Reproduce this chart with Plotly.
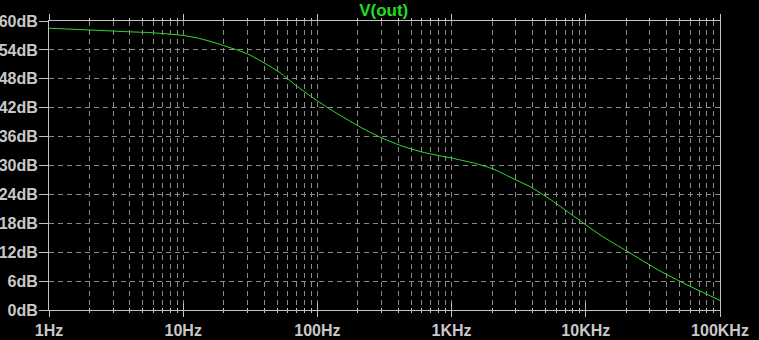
import plotly.graph_objects as go

# Data (frequency in Hz, magnitude in dB)
freq_hz = [1, 2.14, 4.47, 5.62, 10, 12.6, 15.8, 20, 25.1, 31.6, 40.7, 52.5, 70.1,
           88, 124, 175, 208, 292, 412, 582, 820, 1000, 1156, 1450, 1630, 2010,
           3020, 3840, 5410, 7240, 12760, 20280, 35700, 63100, 100000]
mag_db = [58.5, 58.1, 57.7, 57.6, 57.0, 56.5, 55.8, 54.9, 54.0, 52.9, 51.2, 49.3,
          46.5, 44.5, 41.7, 39.2, 38.0, 35.9, 34.2, 32.9, 32.0, 31.55, 31.15, 30.55,
          30.15, 29.35, 27.0, 25.6, 23.0, 20.5, 15.6, 12.2, 8.1, 4.6, 2.0]

x_tick_vals = [1, 10, 100, 1000, 10000, 100000]
x_tick_text = ["1Hz", "10Hz", "100Hz", "1KHz", "10KHz", "100KHz"]
y_tick_vals = [0, 6, 12, 18, 24, 30, 36, 42, 48, 54, 60]
y_tick_text = [f"{v}dB" for v in y_tick_vals]
minor_vals = [m * 10 ** d for d in range(5) for m in range(2, 10)]

label_color = "#c8c8c8"
frame_color = "#c8c0c8"
grid_color = "#8a8a8a"
font_fam = "Liberation Sans, Arial, sans-serif"

fig = go.Figure()
fig.add_trace(go.Scatter(x=freq_hz, y=mag_db, mode="lines",
                         line=dict(color="#33dd33", width=1, shape="spline", smoothing=0.6),
                         hoverinfo="skip", showlegend=False))
# invisible trace on overlaid axes (extra tick marks: crossing x ticks, long y ticks)
fig.add_trace(go.Scatter(x=[freq_hz[0]], y=[mag_db[0]], mode="markers",
                         marker=dict(opacity=0), xaxis="x2", yaxis="y2",
                         hoverinfo="skip", showlegend=False))

xr = [0, 5]
yr = [0, 60]
fig.update_layout(
    width=759, height=340,
    margin=dict(l=49, r=39, t=21, b=30, autoexpand=False),
    paper_bgcolor="black", plot_bgcolor="black",
    title=dict(text="<b>V(out)</b>", x=0.5055, xanchor="center", xref="container",
               y=1 - 10.5 / 340, yanchor="middle", yref="container",
               font=dict(family=font_fam, size=17, color="#22dd22")),
    xaxis=dict(type="log", range=xr, tickmode="array", tickvals=x_tick_vals,
               ticktext=[f"<b>{t}</b>" for t in x_tick_text],
               tickfont=dict(family=font_fam, size=16, color=label_color),
               ticks="outside", ticklen=6, tickcolor=frame_color, tickwidth=1,
               showline=True, linecolor=frame_color, linewidth=1, mirror="ticks",
               showgrid=True, gridcolor=grid_color, griddash="5px,4px", gridwidth=1,
               minor=dict(tickmode="array", tickvals=minor_vals, ticks="outside",
                          ticklen=2, tickcolor=frame_color, showgrid=True,
                          gridcolor=grid_color, griddash="5px,4px", gridwidth=1),
               zeroline=False, fixedrange=True, automargin=False),
    xaxis2=dict(type="log", range=xr, overlaying="x", side="bottom",
                tickmode="array", tickvals=x_tick_vals, showticklabels=False,
                ticks="inside", ticklen=7, tickcolor=frame_color,
                minor=dict(tickmode="array", tickvals=minor_vals, ticks="inside",
                           ticklen=2, tickcolor=frame_color, showgrid=False),
                showgrid=False, showline=False, zeroline=False, fixedrange=True,
                automargin=False),
    yaxis=dict(range=yr, tickmode="array", tickvals=y_tick_vals,
               ticktext=[f"<b>{t}</b>" for t in y_tick_text],
               tickfont=dict(family=font_fam, size=16, color=label_color),
               ticks="", ticklabelstandoff=7,
               showline=True, linecolor=frame_color, linewidth=1, mirror=True,
               showgrid=True, gridcolor=grid_color, griddash="5px,4px", gridwidth=1,
               zeroline=False, fixedrange=True, automargin=False),
    yaxis2=dict(range=yr, overlaying="y", side="left", tickmode="array",
                tickvals=y_tick_vals, showticklabels=False,
                ticks="outside", ticklen=9, tickcolor=frame_color,
                showgrid=False, showline=False, zeroline=False, fixedrange=True,
                automargin=False),
)

fig.write_html("out.html", config={"displayModeBar": False})
